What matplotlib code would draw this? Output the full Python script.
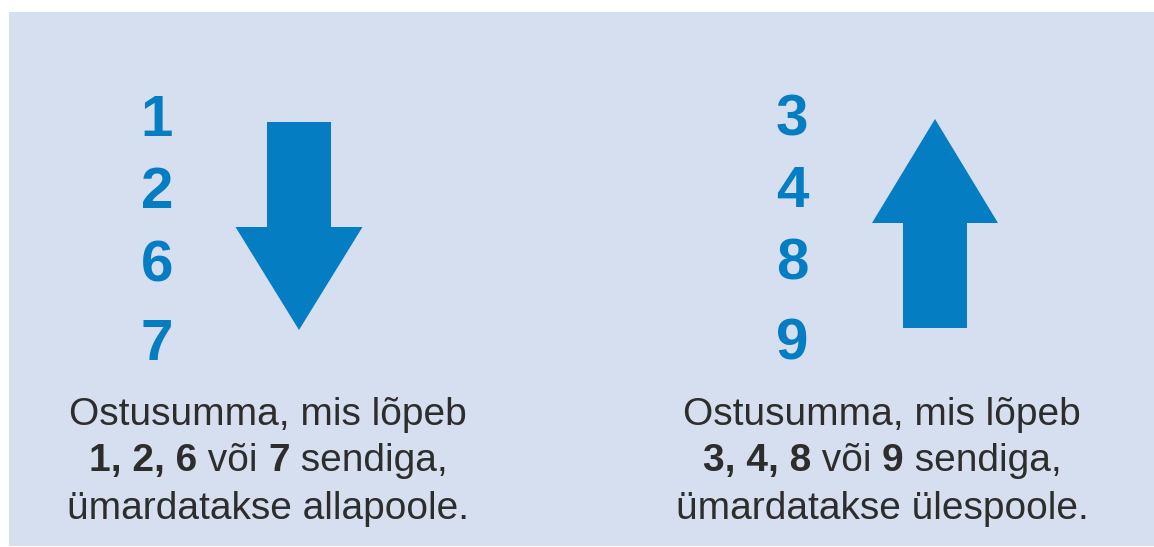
import matplotlib
matplotlib.use("Agg")
import matplotlib.pyplot as plt
from matplotlib.patches import Rectangle, FancyArrow

plt.rcParams['font.family'] = ['Liberation Sans', 'DejaVu Sans']

# content
left_digits = ['1', '2', '6', '7']
right_digits = ['3', '4', '8', '9']
digit_base_left = [136, 208, 282, 360]
digit_base_right = [135, 207, 280, 359]
left_lines = [
    [("Ostusumma, mis lõpeb", "normal")],
    [("1, 2, 6", "bold"), (" või ", "normal"), ("7", "bold"), (" sendiga,", "normal")],
    [("ümardatakse allapoole.", "normal")],
]
right_lines = [
    [("Ostusumma, mis lõpeb", "normal")],
    [("3, 4, 8", "bold"), (" või ", "normal"), ("9", "bold"), (" sendiga,", "normal")],
    [("ümardatakse ülespoole.", "normal")],
]
line_base = [425, 471, 519]

blue = '#047dc2'
bg = '#d6dfef'
dark = '#2d2d2d'

fig = plt.figure(figsize=(11.54, 5.47), dpi=100)
ax = fig.add_axes([0, 0, 1, 1])
ax.set_xlim(0, 1154)
ax.set_ylim(547, 0)
ax.axis('off')

ax.add_patch(Rectangle((9, 12), 1145, 534, color=bg, lw=0))

# arrows
ax.add_patch(FancyArrow(299, 122, 0, 208, width=64, head_width=127, head_length=103,
                        length_includes_head=True, color=blue, lw=0))
ax.add_patch(FancyArrow(935, 328, 0, -209, width=64, head_width=126, head_length=104,
                        length_includes_head=True, color=blue, lw=0))

for d, y in zip(left_digits, digit_base_left):
    ax.text(157, y, d, fontsize=42, fontweight='bold', color=blue, ha='center', va='baseline')
for d, y in zip(right_digits, digit_base_right):
    ax.text(792, y, d, fontsize=42, fontweight='bold', color=blue, ha='center', va='baseline')

fig.canvas.draw()
renderer = fig.canvas.get_renderer()


def draw_line(segments, xc, y):
    # measure pieces then place them side by side, centered at xc
    texts = []
    for s, w in segments:
        t = ax.text(0, y, s, fontsize=28, fontweight=w, color=dark, ha='left', va='baseline')
        texts.append(t)
    widths = [t.get_window_extent(renderer).width for t in texts]
    x = xc - sum(widths) / 2
    for t, w in zip(texts, widths):
        t.set_x(x)
        x += w


for seg, y in zip(left_lines, line_base):
    draw_line(seg, 268, y)
for seg, y in zip(right_lines, line_base):
    draw_line(seg, 882, y)

fig.savefig('out.png', dpi=100)
